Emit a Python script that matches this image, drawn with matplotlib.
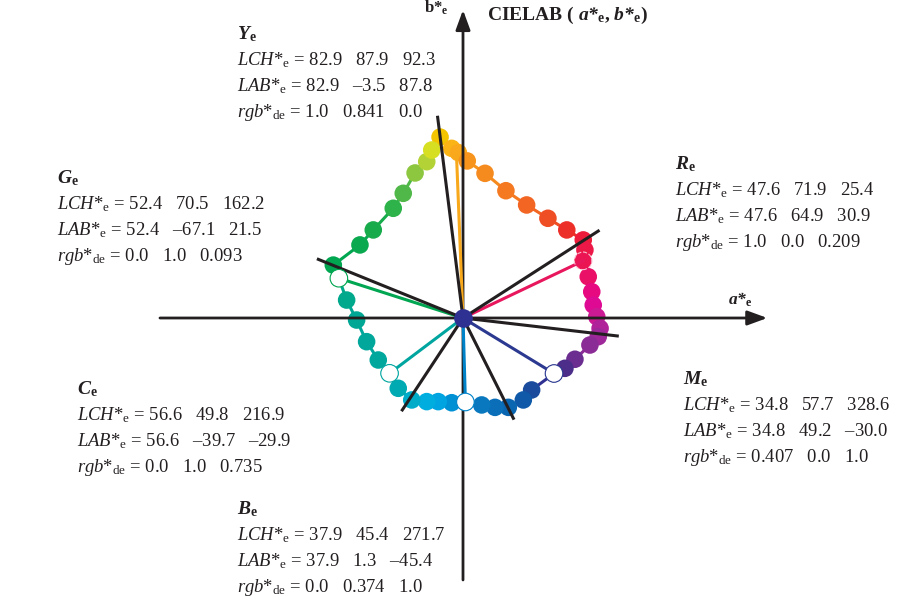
import matplotlib
matplotlib.use('Agg')
import matplotlib.pyplot as plt

plt.rcParams['font.family'] = 'Liberation Serif'
plt.rcParams['mathtext.fontset'] = 'custom'
plt.rcParams['mathtext.rm'] = 'Liberation Serif'
plt.rcParams['mathtext.it'] = 'Liberation Serif:italic'
plt.rcParams['mathtext.bf'] = 'Liberation Serif:bold'
plt.rcParams['mathtext.bfit'] = 'Liberation Serif:italic:bold'

# hue circle samples (a*, b*), clockwise from yellow
hue_a = [-12.4, -6.1, -2.5, 2.3, 11.9, 23.2, 34.4, 45.9, 56.1, 65.0, 65.9, 64.9,
         67.7, 69.6, 70.4, 72.3, 74.1, 73.1, 68.6, 60.5, 55.1, 49.2,
         37.1, 32.6, 24.5, 17.3, 10.1, 1.3, -6.1, -13.4, -19.6, -27.7, -35.0, -39.7,
         -45.8, -52.1, -57.5, -62.9, -67.1, -70.1, -55.7, -48.5, -37.7, -32.3, -25.9,
         -19.6, -16.9]
hue_b = [97.8, 91.7, 89.4, 84.9, 78.2, 68.8, 61.1, 53.9, 47.6, 42.2, 36.8, 30.9,
         22.3, 14.2, 7.0, 0.7, -5.6, -10.1, -14.6, -22.3, -27.2, -30.0,
         -38.9, -44.3, -48.3, -48.3, -47.0, -45.4, -45.8, -45.2, -45.2, -44.3, -38.0, -29.9,
         -22.7, -12.8, -1.1, 9.7, 21.5, 28.6, 39.5, 47.6, 59.3, 67.4, 78.4,
         84.5, 90.8]
hue_colors = ['#f2c500', '#fbb416', '#f9a91b', '#f7941d', '#f58a1f', '#f47920', '#f26522',
              '#ef4d23', '#ed2f2a', '#ed1c3a', '#ec1848', '#ec1553',
              '#ea1068', '#e6097f', '#df0a93', '#cc1a95', '#b0229a', '#9e2899', '#8b2b96',
              '#6b2d90', '#4c2d8a', '#2e3192',
              '#1a4b9c', '#0f59a8', '#0b66b2', '#0a6fb8', '#0a78be', '#0083c9', '#0091d5',
              '#00a4e0', '#00addf', '#00acc8', '#00aab2', '#00a99d',
              '#00a79d', '#00a79a', '#00a794', '#00a88c', '#00a651', '#00a650', '#0aa84f',
              '#17ab4b', '#2db34a', '#50b848', '#8dc63f', '#b2d235', '#d7df23']

# elementary hues
names = ['Y', 'R', 'M', 'B', 'C', 'G']
lch = [(82.9, 87.9, 92.3), (47.6, 71.9, 25.4), (34.8, 57.7, 328.6),
       (37.9, 45.4, 271.7), (56.6, 49.8, 216.9), (52.4, 70.5, 162.2)]
lab_a = [-3.5, 64.9, 49.2, 1.3, -39.7, -67.1]
lab_b = [87.8, 30.9, -30.0, -45.4, -29.9, 21.5]
rgb_txt = ['1.0   0.841   0.0', '1.0   0.0   0.209', '0.407   0.0   1.0',
           '0.0   0.374   1.0', '0.0   1.0   0.735', '0.0   1.0   0.093']
prim_colors = ['#f7a81b', '#e8175d', '#2b3990', '#0083c9', '#00a5a0', '#00a651']

# black hue lines, end points
line_a = [-13.7, 73.1, 83.4, 27.2, -32.8, -78.2]
line_b = [108.5, 47.0, -9.7, -54.2, -49.7, 31.7]

scale = 1.85
cx, cy = 463, 318
W, H = 913, 599

fig = plt.figure(figsize=(W / 100, H / 100), dpi=100)
ax = fig.add_axes([0, 0, 1, 1])
ax.set_xlim(-cx / scale, (W - cx) / scale)
ax.set_ylim(-(H - cy) / scale, cy / scale)
ax.axis('off')

ink = '#231f20'
arrow = dict(arrowstyle='-|>,head_length=0.6,head_width=0.22', lw=2.0, color=ink,
             mutation_scale=20, shrinkA=0, shrinkB=0)
ax.annotate('', xy=(164.5, 0), xytext=(-163.8, 0), arrowprops=arrow, zorder=3)
ax.annotate('', xy=(0, 166.5), xytext=(0, -141.6), arrowprops=arrow, zorder=3)

# polygon segments and dots
n = len(hue_a)
for i in range(n):
    j = (i + 1) % n
    ax.plot([hue_a[i], hue_a[j]], [hue_b[i], hue_b[j]], color=hue_colors[i], lw=2.2,
            zorder=1, solid_capstyle='round')
ax.scatter(hue_a, hue_b, s=160, c=hue_colors, linewidths=0, zorder=2)

# primary lines
for a, b, c in zip(lab_a, lab_b, prim_colors):
    ax.plot([0, a], [0, b], color=c, lw=2.2, zorder=4)
ax.scatter(lab_a[2:], lab_b[2:], s=160, c='white', edgecolors=prim_colors[2:],
           linewidths=0.8, zorder=5)
ax.scatter(lab_a[1:2], lab_b[1:2], s=160, facecolors='none', edgecolors='#f8c0cf',
           linewidths=0.8, linestyles='--', zorder=5)

for a, b in zip(line_a, line_b):
    ax.plot([0, a], [0, b], color=ink, lw=2.2, zorder=4)

ax.scatter([0], [0], s=180, c='#2e3192', linewidths=0, zorder=6)

# labels
def ft(x, y, s, **kw):
    fig.text(x / W, 1 - y / H, s, va='baseline', ha='left', color=ink, **kw)

ft(424, 13, r'$\mathbf{b{*}}_{\mathbf{e}}$', fontsize=12)
ft(487, 20, r'CIELAB ( $\mathbfit{a{*}}_{\mathbf{e}}$, $\mathbfit{b{*}}_{\mathbf{e}}$)',
   fontsize=14, fontweight='bold')
ft(728, 305, r'$\mathbfit{a{*}}_{\mathbf{e}}$', fontsize=12.5)

blocks = [(237, 39), (675, 169), (683, 384), (237, 514), (77, 394), (57, 183)]
for k, (x, y) in enumerate(blocks):
    L, C, h = lch[k]
    dash = lambda v: ('\u2013%.1f' % -v) if v < 0 else '%.1f' % v
    ft(x, y, r'$\mathbfit{%s}_{\mathbf{e}}$' % names[k], fontsize=14)
    ft(x, y + 26, r'$\mathit{LCH{*}}_{\mathrm{e}}$' + ' = %.1f   %.1f   %.1f' % (L, C, h),
       fontsize=13.4)
    ft(x, y + 52, r'$\mathit{LAB{*}}_{\mathrm{e}}$' + ' = %.1f   %s   %s' % (L, dash(lab_a[k]), dash(lab_b[k])),
       fontsize=13.4)
    ft(x, y + 78, r'$\mathit{rgb{*}}_{\mathrm{de}}$' + ' = ' + rgb_txt[k], fontsize=13.4)

fig.savefig('out.png', dpi=100)
